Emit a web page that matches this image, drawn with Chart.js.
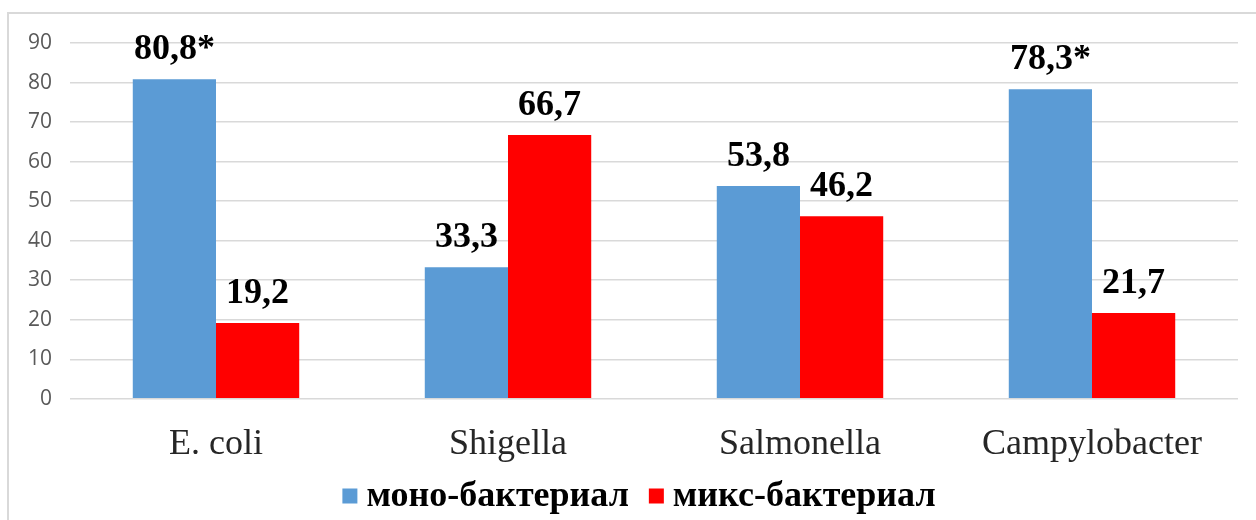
<!DOCTYPE html>
<html lang="ru">
<head>
  <meta charset="UTF-8" />
  <title>Моно- и микс-бактериал</title>
  <script src="https://cdn.jsdelivr.net/npm/chart.js"></script>
  <style>
    html, body {
      margin: 0;
      padding: 0;
      background: #fff;
      overflow: hidden;
    }
    #frame {
      position: absolute;
      left: 7px;
      top: 12px;
      width: 1260px;
      height: 520px;
      border-left: 2px solid #d9d9d9;
      border-top: 2px solid #d9d9d9;
    }
    #wrap {
      position: absolute;
      left: 0;
      top: 0;
      width: 1256px;
      height: 520px;
    }
  </style>
</head>
<body>
  <div id="frame"></div>
  <div id="wrap"><canvas id="chart"></canvas></div>
  <script>
    const categories = ['E. coli', 'Shigella', 'Salmonella', 'Campylobacter'];
    const monoValues = [80.8, 33.3, 53.8, 78.3];
    const mixValues = [19.2, 66.7, 46.2, 21.7];
    const monoMarks = ['*', '', '', '*'];
    const mixMarks = ['', '', '', ''];
    const yTicks = [0, 10, 20, 30, 40, 50, 60, 70, 80, 90];

    const serif = '"Liberation Serif", "Times New Roman", serif';

    // value labels above each bar, e.g. "80,8*"
    const barLabels = {
      id: 'barLabels',
      afterDatasetsDraw(chart) {
        const ctx = chart.ctx;
        ctx.save();
        ctx.font = 'bold 36px ' + serif;
        ctx.fillStyle = '#000';
        ctx.textAlign = 'center';
        ctx.textBaseline = 'alphabetic';
        chart.data.datasets.forEach((ds, di) => {
          const meta = chart.getDatasetMeta(di);
          meta.data.forEach((bar, i) => {
            const v = ds.data[i];
            const text = v.toFixed(1).replace('.', ',') + ds.marks[i];
            ctx.fillText(text, bar.x, bar.y - 20);
          });
        });
        ctx.restore();
      }
    };

    // legend row under the axis: small square, then bold label
    const bottomLegend = {
      id: 'bottomLegend',
      afterDraw(chart) {
        const ctx = chart.ctx;
        const box = 15, gap = 9, between = 20;
        ctx.save();
        ctx.font = 'bold 36px ' + serif;
        ctx.textBaseline = 'middle';
        ctx.textAlign = 'left';
        const items = chart.data.datasets.map(ds => ({
          text: ds.label,
          color: ds.backgroundColor,
          w: ctx.measureText(ds.label).width
        }));
        let total = 0;
        items.forEach((it, i) => {
          total += box + gap + it.w + (i ? between : 0);
        });
        let x = 639 - total / 2;
        const y = 497;
        items.forEach(it => {
          ctx.fillStyle = it.color;
          ctx.fillRect(x, y - box / 2 - 1, box, box);
          x += box + gap;
          ctx.fillStyle = '#000';
          ctx.fillText(it.text, x, y);
          x += it.w + between;
        });
        ctx.restore();
      }
    };

    new Chart(document.getElementById('chart'), {
      type: 'bar',
      data: {
        labels: categories,
        datasets: [
          {
            label: 'моно-бактериал',
            data: monoValues,
            marks: monoMarks,
            backgroundColor: '#5B9BD5'
          },
          {
            label: 'микс-бактериал',
            data: mixValues,
            marks: mixMarks,
            backgroundColor: '#FF0000'
          }
        ]
      },
      options: {
        responsive: true,
        maintainAspectRatio: false,
        animation: false,
        layout: { padding: { top: 43, right: 18, bottom: 38, left: 0 } },
        datasets: {
          bar: { categoryPercentage: 0.57, barPercentage: 1.0 }
        },
        plugins: {
          tooltip: { enabled: false },
          legend: { display: false }
        },
        scales: {
          x: {
            grid: { display: false },
            border: { display: false },
            ticks: {
              color: '#262626',
              padding: 16,
              font: { family: serif, size: 36 }
            }
          },
          y: {
            min: 0,
            max: 90,
            afterFit(scale) { scale.width = 70; },
            afterBuildTicks(scale) { scale.ticks = yTicks.map(v => ({ value: v })); },
            grid: { color: '#d9d9d9', lineWidth: 1.5, drawTicks: false },
            border: { display: false },
            ticks: {
              color: '#595959',
              padding: 18,
              font: { family: '"Open Sans", "Liberation Sans", sans-serif', size: 21 }
            }
          }
        }
      },
      plugins: [barLabels, bottomLegend]
    });
  </script>
</body>
</html>
